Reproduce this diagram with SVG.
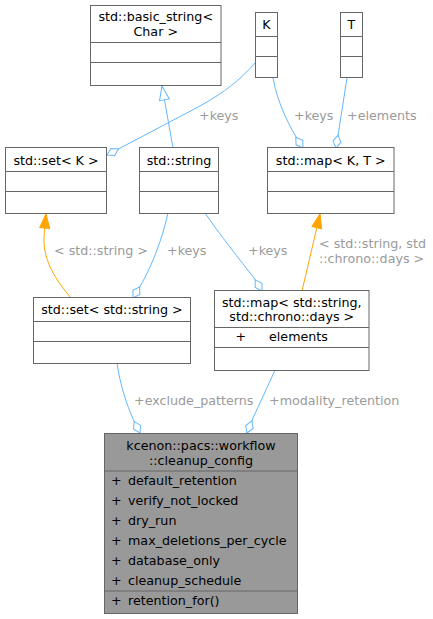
<svg xmlns="http://www.w3.org/2000/svg" width="433" height="619" viewBox="0 0 433 619">
<style>
text{font-family:"DejaVu Sans","Liberation Sans",sans-serif;font-size:12.7px;fill:#000}
.box{fill:#fff;stroke:#666;stroke-width:1}
.cur{fill:#999;stroke:#666;stroke-width:1}
.div{stroke:#666;stroke-width:1;fill:none}
.c{text-anchor:middle}
.lbl{fill:#9a9a9a}
.e{fill:none;stroke:#63b8ff;stroke-width:1}
.o{fill:none;stroke:#ffa500;stroke-width:1}
</style>
<defs>
<marker id="dia" markerUnits="userSpaceOnUse" markerWidth="16" markerHeight="12" viewBox="-1 -6 15 12" refX="13" refY="0" orient="auto">
<path d="M0,0 L6.5,-4 L13,0 L6.5,4 Z" fill="#fff" stroke="#63b8ff" stroke-width="1"/>
</marker>
<marker id="inh" markerUnits="userSpaceOnUse" markerWidth="16" markerHeight="14" viewBox="-1 -7 16 14" refX="14" refY="0" orient="auto">
<path d="M0,-5 L14,0 L0,5 Z" fill="#fff" stroke="#63b8ff" stroke-width="1"/>
</marker>
<marker id="tpl" markerUnits="userSpaceOnUse" markerWidth="16" markerHeight="14" viewBox="-1 -7 16 14" refX="14" refY="0" orient="auto">
<path d="M0,-5 L14,0 L0,5 Z" fill="#ffa500" stroke="#ffa500" stroke-width="1"/>
</marker>
</defs>
<g id="edges">
<path class="e" d="M173,148 L162,86" marker-end="url(#inh)"/>
<path class="e" d="M255,63 C240,80 225,92 200,106 L107,155" marker-end="url(#dia)"/>
<path class="e" d="M273,78 C277,100 287,124 303,148" marker-end="url(#dia)"/>
<path class="e" d="M347,78 L336,148" marker-end="url(#dia)"/>
<path class="o" d="M71,298 C56,280 44,262 44,240 C44,232 45,225 46,214" marker-end="url(#tpl)"/>
<path class="e" d="M168,213 C162,240 152,265 142,283 L133,298" marker-end="url(#dia)"/>
<path class="e" d="M205,213 C220,235 240,260 254,278 L262,291" marker-end="url(#dia)"/>
<path class="o" d="M302,291 L320,214" marker-end="url(#tpl)"/>
<path class="e" d="M117,363 C120,385 127,405 133,419 L140,433" marker-end="url(#dia)"/>
<path class="e" d="M275,370 C267,388 259,405 253,418 L247,433" marker-end="url(#dia)"/>
<text class="lbl" x="199" y="120">+keys</text>
<text class="lbl" x="294" y="120">+keys</text>
<text class="lbl" x="347" y="120">+elements</text>
<text class="lbl" x="54" y="255">&lt; std::string &gt;</text>
<text class="lbl" x="167" y="255">+keys</text>
<text class="lbl" x="248" y="255">+keys</text>
<text class="lbl" x="319" y="248">&lt; std::string, std</text>
<text class="lbl" x="319" y="262.5">::chrono::days &gt;</text>
<text class="lbl" x="134" y="405">+exclude_patterns</text>
<text class="lbl" x="269" y="405">+modality_retention</text>
</g>
<g id="basic_string">
<rect class="box" x="90.5" y="5.5" width="130.5" height="80"/>
<path class="div" d="M90.5,42.5 H221 M90.5,62.5 H221"/>
<text class="c" x="155.75" y="21">std::basic_string&lt;</text>
<text class="c" x="155.75" y="35.5">Char &gt;</text>
</g>
<g id="K">
<rect class="box" x="255.5" y="12.5" width="22" height="65"/>
<path class="div" d="M255.5,36.5 H277.5 M255.5,56.5 H277.5"/>
<text class="c" x="266.5" y="29">K</text>
</g>
<g id="T">
<rect class="box" x="340.5" y="12.5" width="22" height="65"/>
<path class="div" d="M340.5,36.5 H362.5 M340.5,56.5 H362.5"/>
<text class="c" x="351.5" y="29">T</text>
</g>
<g id="set_K">
<rect class="box" x="5.5" y="147.5" width="101" height="66"/>
<path class="div" d="M5.5,171.5 H106.5 M5.5,191.5 H106.5"/>
<text class="c" x="56" y="164.5">std::set&lt; K &gt;</text>
</g>
<g id="string">
<rect class="box" x="139.5" y="147.5" width="79" height="66"/>
<path class="div" d="M139.5,171.5 H218.5 M139.5,191.5 H218.5"/>
<text class="c" x="179" y="164.5">std::string</text>
</g>
<g id="map_KT">
<rect class="box" x="267.5" y="147.5" width="126.5" height="66"/>
<path class="div" d="M267.5,171.5 H394 M267.5,191.5 H394"/>
<text class="c" x="330.75" y="164.5">std::map&lt; K, T &gt;</text>
</g>
<g id="set_string">
<rect class="box" x="33.5" y="297.5" width="157" height="66"/>
<path class="div" d="M33.5,321.5 H190.5 M33.5,341.5 H190.5"/>
<text class="c" x="112" y="314">std::set&lt; std::string &gt;</text>
</g>
<g id="map_string_days">
<rect class="box" x="214.5" y="290.5" width="154.5" height="80"/>
<path class="div" d="M214.5,327.5 H369 M214.5,347.5 H369"/>
<text class="c" x="291.75" y="306.5">std::map&lt; std::string,</text>
<text class="c" x="291.75" y="321">std::chrono::days &gt;</text>
<text class="c" x="240.7" y="341">+</text>
<text x="269" y="341">elements</text>
</g>
<g id="cleanup_config">
<rect class="cur" x="104.5" y="433.5" width="193" height="180"/>
<path class="div" d="M104.5,471 H297.5 M104.5,591 H297.5"/>
<text class="c" x="201" y="450">kcenon::pacs::workflow</text>
<text class="c" x="201" y="465">::cleanup_config</text>
<text x="111" y="485">+</text><text x="128" y="485">default_retention</text>
<text x="111" y="505">+</text><text x="128" y="505">verify_not_locked</text>
<text x="111" y="524.5">+</text><text x="128" y="524.5">dry_run</text>
<text x="111" y="544.5">+</text><text x="128" y="544.5">max_deletions_per_cycle</text>
<text x="111" y="565">+</text><text x="128" y="565">database_only</text>
<text x="111" y="585">+</text><text x="128" y="585">cleanup_schedule</text>
<text x="111" y="605">+</text><text x="128" y="605">retention_for()</text>
</g>
</svg>
